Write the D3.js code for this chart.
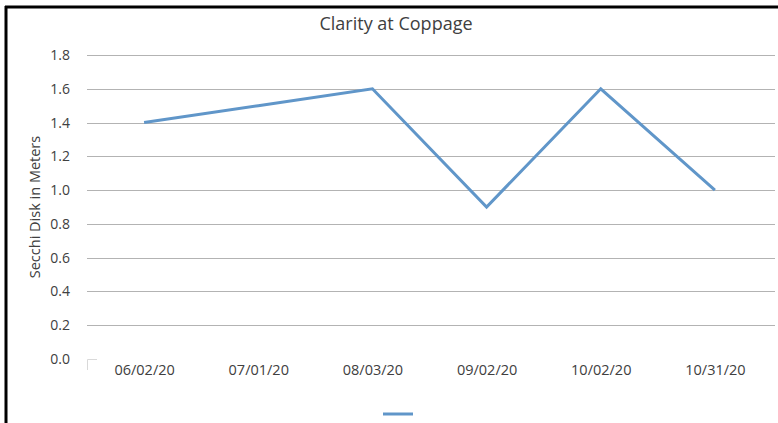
<!DOCTYPE html>
<html>
<head>
<meta charset="utf-8">
<script src="https://cdn.jsdelivr.net/npm/d3@7"></script>
<style>
  html, body { margin: 0; padding: 0; background: #fff; }
  svg { display: block; }
  text { font-family: "Open Sans", "Liberation Sans", sans-serif; fill: #404040; }
</style>
</head>
<body>
<script>
// Secchi disk readings at Coppage
const dates = ["06/02/20", "07/01/20", "08/03/20", "09/02/20", "10/02/20", "10/31/20"];
const depths = [1.4, 1.5, 1.6, 0.9, 1.6, 1.0];
const yTicks = [0, 0.2, 0.4, 0.6, 0.8, 1.0, 1.2, 1.4, 1.6, 1.8];

const W = 778, H = 423;
const plot = { left: 87, right: 772, top: 55, bottom: 359 };

const svg = d3.select("body").append("svg").attr("width", W).attr("height", H);

// chart frame (top and left edges)
svg.append("line").attr("x1", 5).attr("x2", W).attr("y1", 7).attr("y2", 7)
  .attr("stroke", "#000").attr("stroke-width", 3);
svg.append("line").attr("x1", 6).attr("x2", 6).attr("y1", 6).attr("y2", H)
  .attr("stroke", "#000").attr("stroke-width", 3);

const x = d3.scalePoint().domain(dates)
  .range([plot.left, plot.right]).padding(0.5);
const y = d3.scaleLinear().domain([0, 1.8]).range([plot.bottom, plot.top]);

// horizontal gridlines
svg.append("g").selectAll("line")
  .data(yTicks.filter(v => v > 0))
  .join("line")
  .attr("x1", plot.left).attr("x2", plot.right + 3)
  .attr("y1", d => Math.round(y(d)) + 0.5).attr("y2", d => Math.round(y(d)) + 0.5)
  .attr("stroke", "#b3b3b3").attr("stroke-width", 1.2);

// small corner mark at the origin
svg.append("path")
  .attr("d", `M${plot.left + 0.5},${plot.bottom + 11}V${plot.bottom + 0.5}H${plot.left + 10}`)
  .attr("fill", "none").attr("stroke", "#d9d9d9").attr("stroke-width", 1);

// y axis labels
const yAxis = d3.axisLeft(y).tickValues(yTicks).tickFormat(d3.format(".1f")).tickSize(0).tickPadding(17);
const gy = svg.append("g").attr("transform", `translate(${plot.left},0)`).call(yAxis);
gy.select(".domain").remove();
gy.selectAll("text").style("font-size", "14px").attr("fill", "#404040")
  .style("font-family", "'Open Sans', sans-serif");

// x axis labels
const xAxis = d3.axisBottom(x).tickSize(0).tickPadding(6);
const gx = svg.append("g").attr("transform", `translate(0,${plot.bottom})`).call(xAxis);
gx.select(".domain").remove();
gx.selectAll("text").style("font-size", "14.5px").attr("fill", "#404040")
  .style("font-family", "'Open Sans', sans-serif");

// data line
const line = d3.line().x((d, i) => x(dates[i])).y(d => y(d));
svg.append("path").datum(depths)
  .attr("d", line)
  .attr("fill", "none")
  .attr("stroke", "#6096c9")
  .attr("stroke-width", 3)
  .attr("stroke-linejoin", "miter");

// title
svg.append("text").attr("x", 396).attr("y", 30)
  .attr("text-anchor", "middle").style("font-size", "18px").attr("fill", "#262626")
  .text("Clarity at Coppage");

// y axis title
svg.append("text")
  .attr("transform", `translate(40,207) rotate(-90)`)
  .attr("text-anchor", "middle").style("font-size", "14.5px").attr("fill", "#262626")
  .text("Secchi Disk in Meters");

// legend key
svg.append("line")
  .attr("x1", 383).attr("x2", 413).attr("y1", 414).attr("y2", 414)
  .attr("stroke", "#6096c9").attr("stroke-width", 3);
</script>
</body>
</html>
